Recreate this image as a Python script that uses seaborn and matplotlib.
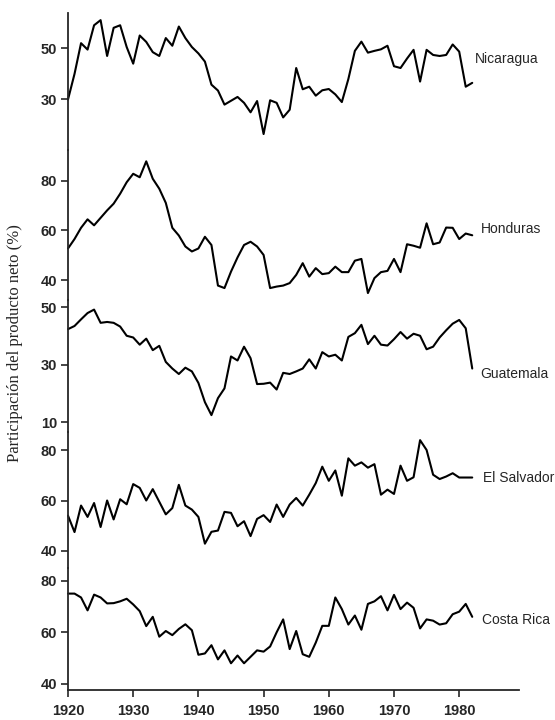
import matplotlib
matplotlib.use("Agg")
import matplotlib.pyplot as plt
import seaborn as sns
import pandas as pd

# ---------------- data ----------------
years = list(range(1920, 1983))

nicaragua = [30, 40, 52, 49.5, 59, 61, 47, 58, 59, 50.5,
             44, 55, 52.5, 48.5, 47, 54, 51, 58.5, 54, 50.5,
             48, 44.8, 35.8, 33.5, 28, 29.5, 31, 28.7, 25, 29.4,
             16.5, 29.7, 28.7, 23, 26, 42.3, 34, 35, 31.5, 33.6,
             34.1, 32, 29, 38, 49, 52.6, 48.3, 49, 49.6, 51,
             43, 42.3, 46, 49.4, 37, 49.4, 47.4, 47, 47.4, 51.5,
             48.7, 35, 36.5]

honduras = [52.7, 56.5, 61, 64.4, 62, 65, 68, 70.7, 74.7, 79.3,
            82.7, 81.3, 87.7, 80.7, 76.7, 71, 61, 57.9, 53.5, 51.5,
            52.7, 57.4, 54.1, 37.8, 36.8, 43.4, 49.1, 54.1, 55.4, 53.5,
            50.1, 36.8, 37.4, 37.8, 38.8, 42.1, 46.8, 41.4, 44.8, 42.4,
            42.8, 45.4, 43.2, 43.2, 47.8, 48.5, 34.8, 40.8, 43.2, 43.7,
            48.5, 43.2, 54.4, 53.8, 53, 62.8, 54.4, 55.1, 61.1, 61,
            56.5, 58.7, 58]

guatemala = [42.4, 43.5, 45.8, 48, 49.2, 44.6, 44.9, 44.6, 43.3, 40.1,
             39.5, 37, 39.1, 35.1, 36.6, 31, 28.7, 26.8, 29, 27.7,
             23.7, 17, 12.5, 18.4, 21.8, 32.9, 31.5, 36.3, 32.3, 23.3,
             23.4, 23.8, 21.4, 27.2, 26.8, 27.7, 28.7, 31.9, 28.7, 34.4,
             32.9, 33.5, 31.5, 39.7, 41, 43.9, 37.2, 40.1, 37, 36.7,
             38.9, 41.4, 39.1, 40.8, 40.1, 35.4, 36.3, 39.5, 42, 44.3,
             45.6, 42.7, 28.7]

el_salvador = [54, 47.5, 58, 53.5, 59, 49.5, 60, 52.5, 60.5, 58.5,
               66.5, 65, 60, 64.5, 59.5, 54.5, 57, 66.2, 58, 56.4,
               53.5, 42.9, 47.6, 48.1, 55.5, 55.1, 49.8, 51.8, 45.9, 52.7,
               54.2, 51.5, 58.4, 53.5, 58.4, 61, 58, 62.3, 66.9, 73.4,
               67.8, 71.9, 61.9, 76.7, 73.8, 75.1, 73, 74.4, 62.3, 64.3,
               62.6, 73.8, 67.8, 69.2, 83.9, 80, 70.2, 68.5, 69.5, 70.8,
               69.1, 69.1, 69.1]

costa_rica = [75, 75, 73.5, 68.5, 74.6, 73.5, 71.2, 71.3, 72, 73,
              70.8, 68.2, 62.4, 66, 58.3, 60.5, 58.9, 61.3, 63.1, 60.8,
              51.3, 51.8, 55, 49.5, 53, 48, 51, 48, 50.5, 53,
              52.5, 54.5, 60, 65, 53.5, 60.5, 51.5, 50.5, 56, 62.5,
              62.5, 73.5, 69, 63, 66.5, 61, 71, 72, 74, 68.5,
              74.5, 69, 71.5, 69.5, 61.5, 65, 64.5, 63, 63.5, 67,
              68, 71, 66]

country_names = ["Nicaragua", "Honduras", "Guatemala", "El Salvador", "Costa Rica"]
series = [nicaragua, honduras, guatemala, el_salvador, costa_rica]
y_ticks = [[30, 50], [40, 60, 80], [10, 30, 50], [40, 60, 80], [40, 60, 80]]
label_values = [46, 60.4, 26.8, 69.0, 64.6]
x_ticks = [1920, 1930, 1940, 1950, 1960, 1970, 1980]
y_title = "Participación del producto neto (%)"

# ---------------- layout (pixels) ----------------
FIG_W, FIG_H = 555, 720
X0_PX, X1_PX = 68, 519
PX_PER_YEAR = 6.52
# (top_px, bottom_px, reference value, reference px, px per unit)
layout = [
    (12.7, 150, 50, 48.3, 2.56),
    (150, 300, 80, 180.5, 2.49),
    (300, 432, 50, 307.3, 2.875),
    (432, 568, 80, 450, 2.525),
    (568, 690, 80, 580.7, 2.58),
]
label_year = [1982.4, 1983.4, 1983.2, 1983.6, 1983.5]

sns.set_style("ticks")
plt.rcParams["font.family"] = ["Liberation Sans", "DejaVu Sans"]

fig = plt.figure(figsize=(FIG_W / 100, FIG_H / 100), dpi=100)
fig.patch.set_facecolor("white")

xlim = (1920, 1920 + (X1_PX - X0_PX) / PX_PER_YEAR)

n = len(series)
for i, (name, vals, ticks, lv, ly, lay) in enumerate(
        zip(country_names, series, y_ticks, label_values, label_year, layout)):
    top, bot, rv, rpx, ppu = lay
    ax = fig.add_axes([X0_PX / FIG_W, 1 - bot / FIG_H,
                       (X1_PX - X0_PX) / FIG_W, (bot - top) / FIG_H])
    ax.set_facecolor("none")
    df = pd.DataFrame({"year": years, "value": vals})
    sns.lineplot(data=df, x="year", y="value", ax=ax, color="black",
                 linewidth=1.5, clip_on=False)
    ax.set_xlim(*xlim)
    ax.set_ylim(rv - (bot - rpx) / ppu, rv + (rpx - top) / ppu)
    ax.set_yticks(ticks)
    ax.set_xlabel("")
    ax.set_ylabel("")
    for s in ["top", "right"]:
        ax.spines[s].set_visible(False)
    ax.spines["left"].set_linewidth(1.3)
    ax.tick_params(axis="y", direction="out", length=5, width=1.2, pad=3,
                   labelsize=10.5)
    for t in ax.get_yticklabels():
        t.set_fontweight("bold")
    if i < n - 1:
        ax.spines["bottom"].set_visible(False)
        ax.tick_params(axis="x", bottom=False, labelbottom=False)
    else:
        ax.spines["bottom"].set_linewidth(1.3)
        ax.set_xticks(x_ticks)
        ax.tick_params(axis="x", direction="out", length=5, width=1.2, pad=5,
                       labelsize=10.5)
        for t in ax.get_xticklabels():
            t.set_fontweight("bold")
    ax.text(ly, lv, name, fontsize=10, ha="left", va="center", clip_on=False)

fig.text(15.5 / FIG_W, 1 - 343 / FIG_H, y_title, rotation=90,
         family=["Liberation Serif", "DejaVu Serif"], fontsize=12,
         ha="center", va="center")

fig.savefig("out.png", dpi=100)
